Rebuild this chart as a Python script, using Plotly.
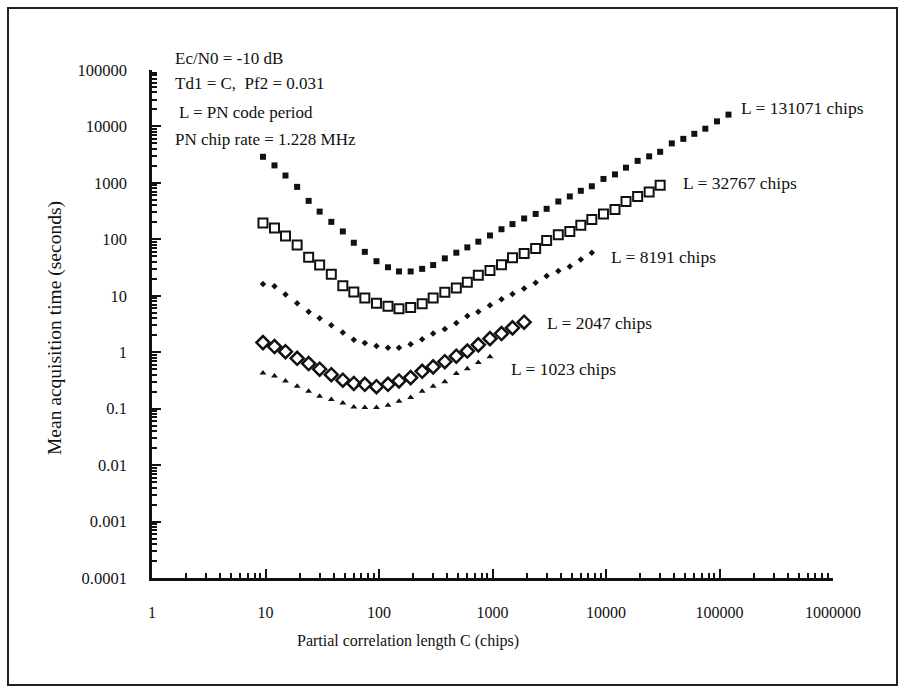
import plotly.graph_objects as go

# ---------------- data ----------------
C_GRID = [9.5, 12, 15, 19, 24, 30, 38, 48, 60, 75,
          95, 120, 150, 190, 240, 300, 380, 480, 600, 750,
          950, 1200, 1500, 1900, 2400, 3000, 3800, 4800, 6000, 7500,
          9500, 12000, 15000, 19000, 24000, 30000, 38000, 48000, 60000, 75000,
          95000, 120000]

T_131071 = [2900, 2040, 1350, 850, 480, 310, 204, 138, 87, 60,
            41, 32, 27, 27, 30, 35, 46, 58, 72, 91,
            117, 151, 186, 234, 282, 347, 468, 575, 724, 871,
            1175, 1413, 1862, 2455, 2950, 3550, 5012, 6026, 7400, 9120,
            12300, 16200]
T_32767 = [195, 158, 115, 79, 48, 35, 24, 15, 11.7, 9.1,
           7.4, 6.5, 5.9, 6.2, 7.2, 9.1, 11.5, 13.8, 17.4, 23,
           28, 35.5, 47, 56, 69, 95, 120, 138, 178, 224,
           282, 339, 468, 575, 692, 912]
T_8191 = [16.2, 14.8, 10.5, 7.4, 5.2, 4.0, 3.0, 2.24, 1.66, 1.45,
          1.29, 1.2, 1.2, 1.38, 1.7, 2.14, 2.57, 3.3, 4.4, 5.2,
          6.8, 8.7, 10.7, 13.5, 17, 22.4, 27.5, 33, 44, 58]
T_2047 = [1.48, 1.26, 1.02, 0.78, 0.63, 0.50, 0.40, 0.32, 0.28, 0.27,
          0.245, 0.27, 0.31, 0.355, 0.46, 0.55, 0.68, 0.85, 1.05, 1.35,
          1.74, 2.14, 2.7, 3.4]
T_1023 = [0.43, 0.38, 0.31, 0.25, 0.204, 0.166, 0.145, 0.126, 0.107, 0.105,
          0.105, 0.115, 0.135, 0.158, 0.204, 0.25, 0.30, 0.42, 0.51, 0.66,
          0.83]

X_TICKS = [1, 10, 100, 1000, 10000, 100000, 1000000]
X_TICKTEXT = ["1", "10", "100", "1000", "10000", "100000", "1000000"]
Y_TICKS = [0.0001, 0.001, 0.01, 0.1, 1, 10, 100, 1000, 10000, 100000]
Y_TICKTEXT = ["0.0001", "0.001", "0.01", "0.1", "1", "10", "100", "1000", "10000", "100000"]

SERIES_LABELS = ["L = 131071 chips", "L = 32767 chips", "L = 8191 chips",
                 "L = 2047 chips", "L = 1023 chips"]
NOTES = ["Ec/N0 = -10 dB", "Td1 = C,\u00a0\u00a0Pf2 = 0.031",
         "L = PN code period", "PN chip rate = 1.228 MHz"]

# ---------------- layout geometry ----------------
W, H = 906, 689
PL, PR, PT, PB = 152, 833, 70, 578   # plot area in pixels


def px(x):
    return (x - PL) / (PR - PL)


def py(y):
    return (PB - y) / (PB - PT)


FONT = "Liberation Serif, Times New Roman, serif"
INK = "#111111"

fig = go.Figure()

series = [
    (T_131071, dict(symbol="square", size=6, color=INK)),
    (T_32767, dict(symbol="square-open", size=9, color=INK, line=dict(width=2, color=INK))),
    (T_8191, dict(symbol="diamond", size=5, color=INK)),
    (T_2047, dict(symbol="diamond-open", size=10, color=INK, line=dict(width=2.5, color=INK))),
    (T_1023, dict(symbol="triangle-up", size=6, color=INK)),
]
for (vals, mk), name in zip(series, SERIES_LABELS):
    fig.add_trace(go.Scatter(x=C_GRID[:len(vals)], y=vals, mode="markers",
                             marker=mk, name=name, showlegend=False))

minor_x = [m * 10 ** d for d in range(0, 6) for m in range(2, 10)]
minor_y = [m * 10.0 ** d for d in range(-4, 5) for m in range(2, 10)]

fig.update_xaxes(type="log", range=[0, 6], tickvals=X_TICKS, ticktext=X_TICKTEXT,
                 ticks="inside", ticklen=9, tickwidth=2, tickcolor=INK,
                 showline=True, linewidth=2.5, linecolor=INK, showgrid=False,
                 zeroline=False, ticklabelstandoff=18,
                 tickfont=dict(family=FONT, size=16, color=INK),
                 minor=dict(tickvals=minor_x, ticks="inside", ticklen=5,
                            tickwidth=1.5, tickcolor=INK, showgrid=False))
fig.update_yaxes(type="log", range=[-4, 5], tickvals=Y_TICKS, ticktext=Y_TICKTEXT,
                 ticks="inside", ticklen=9, tickwidth=2, tickcolor=INK,
                 showline=True, linewidth=2.5, linecolor=INK, showgrid=False,
                 zeroline=False, ticklabelstandoff=19,
                 tickfont=dict(family=FONT, size=16.5, color=INK),
                 minor=dict(tickvals=minor_y, ticks="inside", ticklen=5,
                            tickwidth=1.5, tickcolor=INK, showgrid=False))

ann = []
# notes top-left
for text, (x, y) in zip(NOTES, [(173, 58), (173, 83.5), (177, 112.5), (173, 139.5)]):
    ann.append(dict(text=text, x=px(x), y=py(y), xref="paper", yref="paper",
                    xanchor="left", yanchor="middle", showarrow=False,
                    font=dict(family=FONT, size=17, color=INK)))
# series labels
for text, (x, y) in zip(SERIES_LABELS, [(739, 108), (681, 183), (609, 257),
                                        (545, 323), (509, 368.5)]):
    ann.append(dict(text=text, x=px(x), y=py(y), xref="paper", yref="paper",
                    xanchor="left", yanchor="middle", showarrow=False,
                    font=dict(family=FONT, size=17.5, color=INK)))
# axis titles
ann.append(dict(text="Partial correlation length C (chips)", x=px(408), y=py(641),
                xref="paper", yref="paper", xanchor="center", yanchor="middle",
                showarrow=False, font=dict(family=FONT, size=16, color=INK)))
ann.append(dict(text="Mean acquisition time (seconds)", x=px(55), y=py(328),
                xref="paper", yref="paper", xanchor="center", yanchor="middle",
                textangle=-90, showarrow=False,
                font=dict(family=FONT, size=19.5, color=INK)))

shapes = [dict(type="rect", xref="paper", yref="paper",
               x0=px(8), x1=px(897), y0=py(685), y1=py(8),
               line=dict(color="#222222", width=2), fillcolor="rgba(0,0,0,0)")]

fig.update_layout(width=W, height=H, autosize=False,
                  margin=dict(l=PL, r=W - PR, t=PT, b=H - PB, pad=0),
                  paper_bgcolor="white", plot_bgcolor="white",
                  annotations=ann, shapes=shapes, showlegend=False)

fig.write_html("out.html", config={"displayModeBar": False})
